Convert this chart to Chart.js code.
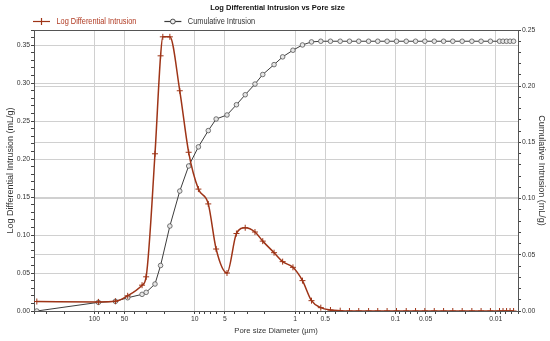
<!DOCTYPE html>
<html>
<head>
<meta charset="utf-8">
<script src="https://cdn.jsdelivr.net/npm/chart.js@4/dist/chart.umd.min.js"></script>
<style>
  html, body { margin: 0; padding: 0; background: #fff; }
</style>
</head>
<body>
<canvas id="poreChart" width="550" height="341"></canvas>
<script>
// pore size diameter (µm), shared by both series
const diameters = [375, 91.2, 61.7, 46.6, 33.5, 30.5, 24.9, 21.9, 20.8, 17.7,
  14.1, 11.5, 9.19, 7.33, 6.12, 4.77, 3.84, 3.14, 2.51, 2.10,
  1.62, 1.33, 1.05, 0.844, 0.686, 0.554, 0.444, 0.355, 0.287, 0.232,
  0.185, 0.150, 0.121, 0.0975, 0.078, 0.063, 0.0509, 0.041, 0.0331, 0.0268,
  0.0216, 0.0173, 0.0140, 0.0113, 0.00917, 0.00846, 0.0078, 0.0072, 0.00664];

// mL/g, left axis
const logDiffIntrusion = [0.0125, 0.012, 0.0128, 0.020, 0.034, 0.045, 0.207, 0.336, 0.361, 0.361,
  0.290, 0.209, 0.1605, 0.141, 0.0816, 0.050, 0.102, 0.1096, 0.104, 0.092,
  0.0768, 0.065, 0.0575, 0.040, 0.0136, 0.0044, 0.0013, 0.0004, 0, 0,
  0, 0, 0, 0, 0, 0, 0, 0, 0, 0,
  0, 0, 0, 0, 0, 0, 0, 0, 0];

// mL/g, right axis
const cumIntrusion = [0, 0.0077, 0.0086, 0.0118, 0.0148, 0.0166, 0.024, 0.0405, null, 0.0756,
  0.1067, 0.129, 0.146, 0.1605, 0.1708, 0.1744, 0.1835, 0.1924, 0.2019, 0.2104,
  0.2192, 0.2261, 0.232, 0.2367, 0.2394, 0.240, 0.240, 0.240, 0.240, 0.240,
  0.240, 0.240, 0.240, 0.240, 0.240, 0.240, 0.240, 0.240, 0.240, 0.240,
  0.240, 0.240, 0.240, 0.240, 0.240, 0.240, 0.240, 0.240, 0.240];

const xTickLabels = [100, 50, 10, 5, 1, 0.5, 0.1, 0.05, 0.01];

const FONT = "'Liberation Sans', Arial, sans-serif";
const RED = "#9e3417";
const GREY = "#3c3c3c";
const GRID = "#d0d0d0";
const legendText = ["#b03a22", "#333"];

const isMajor05 = v => Math.abs(Math.round(v * 100)) % 5 === 0;
const xLabel = v => {
  const hit = xTickLabels.find(l => Math.abs(l - v) / l < 1e-6);
  return hit === undefined ? "" : String(hit);
};

// top edge of the plot box
const frame = {
  id: "frame",
  afterDraw(chart) {
    const { ctx, chartArea: a } = chart;
    ctx.save();
    ctx.strokeStyle = "#555";
    ctx.lineWidth = 1;
    ctx.beginPath();
    ctx.moveTo(a.left, a.top + 0.5);
    ctx.lineTo(a.right, a.top + 0.5);
    ctx.stroke();
    ctx.restore();
  }
};

// legend row: line sample + marker + narrow text
const legendRow = {
  id: "legendRow",
  afterDraw(chart) {
    const { ctx } = chart;
    const y = 21;
    let x = 33;
    ctx.save();
    ctx.font = "9px " + FONT;
    ctx.textBaseline = "middle";
    chart.data.datasets.forEach((ds, i) => {
      ctx.strokeStyle = ds.borderColor;
      ctx.lineWidth = 1.2;
      ctx.beginPath();
      ctx.moveTo(x, y + 0.5);
      ctx.lineTo(x + 17, y + 0.5);
      ctx.stroke();
      if (i === 0) {
        ctx.beginPath();
        ctx.moveTo(x + 8.5, y - 3);
        ctx.lineTo(x + 8.5, y + 4);
        ctx.stroke();
      } else {
        ctx.fillStyle = "#eee";
        ctx.lineWidth = 0.9;
        ctx.beginPath();
        ctx.arc(x + 8.5, y + 0.5, 2.4, 0, Math.PI * 2);
        ctx.fill();
        ctx.stroke();
      }
      ctx.save();
      ctx.translate(x + 23.5, y + 0.5);
      ctx.scale(0.82, 1);
      ctx.fillStyle = legendText[i];
      ctx.fillText(ds.label, 0, 0);
      const w = ctx.measureText(ds.label).width * 0.82;
      ctx.restore();
      x += 23.5 + w + 28;
    });
    ctx.restore();
  }
};

new Chart(document.getElementById("poreChart"), {
  type: "line",
  data: {
    datasets: [
      {
        label: "Log Differential Intrusion",
        data: diameters.map((d, i) => ({ x: d, y: logDiffIntrusion[i] })),
        yAxisID: "y",
        borderColor: RED,
        borderWidth: 1.5,
        pointStyle: "cross",
        pointRadius: 3,
        pointBorderColor: RED,
        pointBorderWidth: 1,
        cubicInterpolationMode: "monotone",
        fill: false
      },
      {
        label: "Cumulative Intrusion",
        data: diameters.map((d, i) => ({ x: d, y: cumIntrusion[i] })),
        yAxisID: "y2",
        borderColor: GREY,
        borderWidth: 1,
        pointStyle: "circle",
        pointRadius: 2.3,
        pointBackgroundColor: "#e6e6e6",
        pointBorderColor: "#555",
        pointBorderWidth: 0.8,
        spanGaps: true,
        tension: 0,
        fill: false
      }
    ]
  },
  options: {
    responsive: false,
    animation: false,
    layout: { padding: { left: 5, right: 0, top: 0, bottom: 0 } },
    scales: {
      x: {
        type: "logarithmic",
        reverse: true,
        min: 0.006,
        max: 400,
        afterFit: s => { s.height = 30; },
        afterBuildTicks: scale => {
          const t = [];
          for (let e = -3; e <= 2; e++) {
            for (let m = 1; m <= 9; m++) {
              const v = m * Math.pow(10, e);
              if (v >= scale.min && v <= scale.max) t.push({ value: v });
            }
          }
          scale.ticks = t;
        },
        ticks: {
          autoSkip: false,
          maxRotation: 0,
          padding: 1,
          color: "#333",
          font: { family: FONT, size: 6.8 },
          callback: v => xLabel(v)
        },
        grid: {
          color: c => (c.tick && xLabel(c.tick.value) !== "" ? GRID : "rgba(0,0,0,0)"),
          tickColor: "#444",
          tickLength: 3
        },
        border: { color: "#555" },
        title: {
          display: true,
          text: "Pore size Diameter (µm)",
          color: "#333",
          font: { family: FONT, size: 7.7 },
          padding: { top: 0, bottom: 5 }
        }
      },
      y: {
        position: "left",
        min: 0,
        max: 0.37,
        afterFit: s => { s.width = 29; },
        ticks: {
          stepSize: 0.01,
          autoSkip: false,
          padding: 1,
          color: "#333",
          font: { family: FONT, size: 6.8 },
          callback: v => (isMajor05(v) ? v.toFixed(2) : "")
        },
        grid: {
          color: c => (c.tick && isMajor05(c.tick.value) ? GRID : "rgba(0,0,0,0)"),
          tickColor: "#444",
          tickLength: 3
        },
        border: { color: "#555" },
        title: {
          display: true,
          text: "Log Differential Intrusion (mL/g)",
          color: "#333",
          font: { family: FONT, size: 9 },
          padding: { top: 0, bottom: 1 }
        }
      },
      y2: {
        position: "right",
        min: 0,
        max: 0.25,
        afterFit: s => { s.width = 32; },
        ticks: {
          stepSize: 0.01,
          autoSkip: false,
          padding: 1,
          color: "#333",
          font: { family: FONT, size: 6.8 },
          callback: v => (isMajor05(v) ? v.toFixed(2) : "")
        },
        grid: {
          drawOnChartArea: true,
          color: c => (c.tick && isMajor05(c.tick.value) ? GRID : "rgba(0,0,0,0)"),
          tickColor: "#444",
          tickLength: 3
        },
        border: { color: "#555" },
        title: {
          display: true,
          text: "Cumulative Intrusion (mL/g)",
          color: "#333",
          font: { family: FONT, size: 9 },
          padding: { top: 3, bottom: 0 }
        }
      }
    },
    plugins: {
      title: {
        display: true,
        text: "Log Differential Intrusion vs Pore size",
        color: "#111",
        font: { family: FONT, size: 7.5, weight: "bold" },
        padding: { top: 3, bottom: 18 }
      },
      legend: { display: false },
      tooltip: { enabled: false }
    }
  },
  plugins: [frame, legendRow]
});
</script>
</body>
</html>
